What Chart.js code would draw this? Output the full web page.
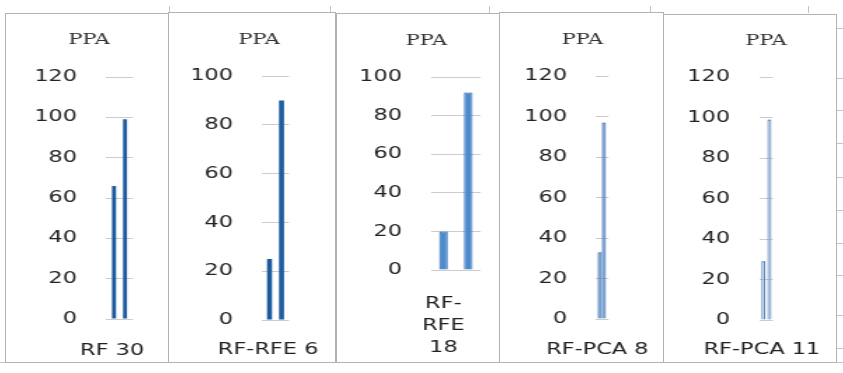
<!DOCTYPE html>
<html>
<head>
<meta charset="utf-8">
<script src="https://cdn.jsdelivr.net/npm/chart.js@4.4.1/dist/chart.umd.min.js"></script>
<style>
  html, body { margin: 0; padding: 0; background: #fff; }
  #sheet { position: relative; width: 843px; height: 373px; overflow: hidden; background: #fff; }
  .frame { position: absolute; box-sizing: border-box; border: 1px solid #b3b3b3; }
  .holder { position: absolute; transform-origin: 0 0; }
  .holder canvas { display: block; }
  .rule { position: absolute; background: #c4c4c4; }
</style>
</head>
<body>
<div id="sheet"></div>
<script>
// PPA scores for each model, two runs per model
const models = ['RF 30', 'RF-RFE 6', ['RF-', 'RFE', '18'], 'RF-PCA 8', 'RF-PCA 11'];
const runA = [66, 25, 20, 33, 29];
const runB = [99, 90, 92, 97, 99];
const axisMax = [120, 100, 100, 120, 120];
const axisStep = 20;

// the screenshot is horizontally stretched, so each chart is drawn narrow and widened
const S = 1.4;

// frame box and plot geometry for each small chart (page pixels, relative to the frame)
const panels = [
  { x: 5,   y: 13, w: 164, h: 350, gridL: 101, gridR: 128, top: 64, zero: 306, titleX: 84,  titleY: 27, gap: 29, xPad: 13, xShift: -7.5,  cat: 0.815, bar: 0.364, fill: '#1d5a9e', line: '#1d5a9e', lineW: 0 },
  { x: 168, y: 12, w: 168, h: 351, gridL: 94,  gridR: 121, top: 64, zero: 308, titleX: 91,  titleY: 28, gap: 29, xPad: 11, xShift: -7.5,  cat: 0.889, bar: 0.417, fill: '#1d5a9e', line: '#1d5a9e', lineW: 0 },
  { x: 336, y: 13, w: 164, h: 350, gridL: 95,  gridR: 144, top: 64, zero: 257, titleX: 90,  titleY: 28, gap: 29, xPad: 15, xShift: -12.5, cat: 1.0,   bar: 0.347, fill: '#4b8bd0', line: '#2a62a5', lineW: 1 },
  { x: 499, y: 12, w: 165, h: 351, gridL: 96,  gridR: 109, top: 64, zero: 307, titleX: 83,  titleY: 28, gap: 28, xPad: 12, xShift: -4.5,  cat: 0.615, bar: 1.0,   fill: '#6a98d4', line: '#285ea3', lineW: 1 },
  { x: 663, y: 14, w: 174, h: 349, gridL: 97,  gridR: 110, top: 63, zero: 306, titleX: 103, titleY: 27, gap: 30, xPad: 11, xShift: -4.5,  cat: 0.923, bar: 0.67,  fill: '#d2e2f4', line: '#285ca3', lineW: 1 }
];

const sheet = document.getElementById('sheet');

function addRule(x, y, w, h) {
  const d = document.createElement('div');
  d.className = 'rule';
  d.style.left = x + 'px';
  d.style.top = y + 'px';
  d.style.width = w + 'px';
  d.style.height = h + 'px';
  sheet.appendChild(d);
}

// worksheet cell lines around the charts
[169, 330, 489, 650, 808].forEach(x => addRule(x, 6, 1, 7));
[28, 78, 110, 143, 177, 210, 243, 275, 315, 348].forEach(y => addRule(836, y, 7, 1));
addRule(0, 362, 843, 1);

const tickColor = '#222222';
const tickFont = { family: 'DejaVu Sans', size: 16, lineHeight: 1.375 };
const titleSize = 15;

panels.forEach((p, i) => {
  const frame = document.createElement('div');
  frame.className = 'frame';
  frame.style.left = p.x + 'px';
  frame.style.top = p.y + 'px';
  frame.style.width = p.w + 'px';
  frame.style.height = p.h + 'px';
  sheet.appendChild(frame);

  // canvas is as wide as twice the title centre, so the title lands on titleX
  const wide = Math.max(p.w, 2 * p.titleX);
  const holder = document.createElement('div');
  holder.className = 'holder';
  holder.style.left = p.x + 'px';
  holder.style.top = p.y + 'px';
  holder.style.transform = 'scaleX(' + S + ')';
  const canvas = document.createElement('canvas');
  canvas.width = Math.round(wide / S);
  canvas.height = p.h;
  holder.appendChild(canvas);
  sheet.appendChild(holder);

  const titleLine = titleSize * 1.2;
  const titleTop = p.titleY - titleLine / 2;

  const barStyle = {
    yAxisID: 'y',
    backgroundColor: p.fill,
    borderColor: p.line,
    borderWidth: p.lineW,
    categoryPercentage: p.cat,
    barPercentage: p.bar
  };

  new Chart(canvas, {
    type: 'bar',
    data: {
      labels: [models[i]],
      datasets: [
        Object.assign({ label: 'A', data: [runA[i]] }, barStyle),
        Object.assign({ label: 'B', data: [runB[i]] }, barStyle)
      ]
    },
    options: {
      responsive: false,
      animation: false,
      devicePixelRatio: 1,
      layout: { padding: 0 },
      plugins: {
        legend: { display: false },
        tooltip: { enabled: false },
        title: {
          display: true,
          text: 'PPA',
          color: '#333333',
          font: { family: 'DejaVu Serif', size: titleSize, weight: 'normal' },
          padding: { top: titleTop, bottom: p.top - titleTop - titleLine }
        }
      },
      scales: {
        x: {
          grid: { display: false },
          border: { display: false },
          ticks: {
            color: tickColor,
            font: tickFont,
            padding: p.xPad,
            maxRotation: 0,
            minRotation: 0,
            autoSkip: false,
            labelOffset: p.xShift / S
          },
          afterFit: s => {
            s.height = p.h - p.zero;
            s.paddingLeft = 0;
            s.paddingRight = 0;
          }
        },
        y: {
          min: 0,
          max: axisMax[i],
          ticks: {
            stepSize: axisStep,
            color: tickColor,
            font: tickFont,
            padding: p.gap / S
          },
          grid: { color: '#cccccc', lineWidth: 1, drawTicks: false },
          border: { display: false },
          afterFit: s => {
            s.width = p.gridL / S;
            s.paddingTop = 0;
            s.paddingBottom = 0;
          }
        },
        // empty right-hand axis that only reserves room beside the plot
        spacer: {
          type: 'linear',
          position: 'right',
          grid: { display: false },
          border: { display: false },
          ticks: { display: false },
          afterFit: s => {
            s.width = (wide - p.gridR) / S;
            s.paddingTop = 0;
            s.paddingBottom = 0;
          }
        }
      }
    }
  });
});
</script>
</body>
</html>
